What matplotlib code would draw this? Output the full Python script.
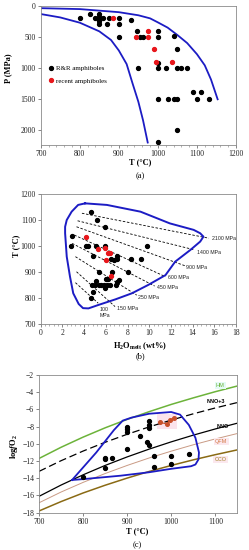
import numpy as np
import matplotlib
matplotlib.use('Agg')
import matplotlib.pyplot as plt
from matplotlib.ticker import MultipleLocator
from matplotlib.patches import Rectangle

plt.rcParams['font.family'] = ['Liberation Serif', 'DejaVu Serif']
plt.rcParams['mathtext.fontset'] = 'custom'
plt.rcParams['mathtext.rm'] = 'Liberation Serif:bold'
plt.rcParams['mathtext.it'] = 'Liberation Serif:bold:italic'
plt.rcParams['mathtext.bf'] = 'Liberation Serif:bold'

# ---- panel (a): P-T of amphiboles ----
rr_T = [800, 825, 840, 850, 850, 850, 850, 850, 860, 870, 875, 900, 900, 900,
        930, 947, 953, 962, 1000, 1000, 1040, 1050, 1000, 950, 1000, 1020, 1050,
        1060, 1075, 1090, 1110, 1000, 1025, 1040, 1050, 1100, 1130, 1050, 1000]
rr_P = [200, 135, 200, 130, 170, 210, 250, 295, 200, 290, 200, 200, 290, 500,
        230, 400, 500, 500, 400, 500, 490, 700, 930, 1000, 1000, 1000, 1000,
        1000, 1000, 1400, 1400, 1500, 1500, 1500, 1500, 1500, 1500, 2000, 2200]
new_T = [885, 975, 943, 975, 990, 995, 1035]
new_P = [200, 400, 500, 500, 700, 900, 900]

upper_T = [700, 800, 900, 950, 980, 1000, 1025, 1050, 1075, 1100, 1120, 1136, 1153]
upper_P = [35, 50, 100, 150, 200, 265, 350, 470, 600, 780, 960, 1190, 1510]
lower_T = [700, 750, 800, 850, 880, 900, 920, 935, 950, 962, 974]
lower_P = [130, 185, 270, 410, 550, 720, 940, 1250, 1550, 1850, 2210]

# ---- panel (b): T vs melt H2O ----
b_H = [4.6, 5.2, 5.9, 2.9, 2.8, 4.2, 4.4, 5.1, 5.9, 9.8, 4.8, 6.5, 6.8, 7.0, 7.0,
       8.3, 9.2, 5.4, 6.6, 8.0, 6.0, 6.2, 5.1, 4.7, 5.0, 5.4, 5.6, 5.8, 6.1, 6.4,
       6.9, 7.0, 7.2, 5.9, 4.8, 4.6]
b_T = [1130, 1100, 1075, 1040, 1000, 1000, 1000, 1000, 1000, 1000, 960, 950, 945,
       960, 950, 950, 950, 900, 900, 900, 875, 875, 865, 850, 850, 850, 850, 850,
       850, 850, 850, 860, 870, 840, 825, 800]
b_new_H = [4.2, 5.3, 5.9, 6.2, 6.4, 6.0, 6.5]
b_new_T = [1035, 990, 993, 975, 975, 945, 885]

isobar_labels = ['2100 MPa', '1400 MPa', '900 MPa', '600 MPa', '450 MPa',
                 '250 MPa', '150 MPa', '100\nMPa']
isobar_H0 = [3.8, 3.4, 3.3, 3.1, 2.9, 3.2, 3.3, 3.2]
isobar_T0 = [1126, 1097, 1074, 1042, 1010, 959, 901, 859]
isobar_H1 = [15.5, 14.2, 13.3, 11.5, 10.5, 8.85, 6.85, 5.3]
isobar_T1 = [1030, 985, 924, 882, 846, 811, 767, 780]
label_H = [15.75, 14.4, 13.4, 11.7, 10.7, 9.0, 7.0, 5.45]
label_T = [1030, 976, 917, 880, 840, 801, 760, 765]

field_b_H = [4.1, 6.1, 9.2, 11.9, 14.1, 14.7, 15.0, 14.7, 13.8, 12.4, 11.5, 9.9, 8.4,
             6.9, 5.3, 4.4, 3.9, 3.5, 3.0, 2.7, 2.4, 2.25, 2.25, 2.4, 2.85, 3.45, 4.1]
field_b_T = [1164, 1158, 1132, 1087, 1062, 1049, 1036, 1017, 985, 940, 888, 850, 818,
             795, 773, 760, 761, 777, 818, 882, 959, 1049, 1074, 1100, 1132, 1158, 1164]

# ---- panel (c): log fO2 vs T ----
buf_T = [700, 750, 800, 850, 900, 950, 1000, 1050, 1100, 1150]
hm = [-11.70, -10.40, -9.22, -8.14, -7.16, -6.26, -5.42, -4.66, -3.94, -3.28]
nno3 = [-13.20, -11.96, -10.84, -9.82, -8.89, -8.03, -7.24, -6.51, -5.83, -5.20]
nno = [-16.10, -14.79, -13.60, -12.51, -11.52, -10.61, -9.77, -8.99, -8.27, -7.60]
qfm = [-16.85, -15.60, -14.48, -13.45, -12.51, -11.64, -10.85, -10.11, -9.43, -8.80]
cco = [-17.80, -16.71, -15.71, -14.81, -13.98, -13.21, -12.51, -11.86, -11.26, -10.70]

c_T = [800, 850, 850, 865, 850, 900, 900, 900, 900, 930, 950, 950, 950, 945, 950,
       960, 960, 1000, 1000, 1040]
c_f = [-13.8, -11.6, -11.8, -11.7, -12.8, -8.1, -8.3, -8.6, -10.6, -9.1, -7.3, -7.8,
       -8.2, -9.8, -10.1, -11.4, -12.7, -11.4, -12.3, -11.2]
c_new_T = [975, 990, 998, 1006]
c_new_f = [-7.5, -7.7, -7.2, -7.0]

field_c_T = [775, 830, 870, 890, 910, 950, 1000, 1020, 1040, 1055, 1063, 1062, 1055,
             1045, 1000, 950, 885, 800, 775]
field_c_f = [-14.2, -11.0, -8.4, -7.3, -6.95, -6.5, -6.3, -6.6, -7.8, -9.3, -11.0,
             -11.8, -12.4, -12.6, -12.9, -13.3, -13.7, -14.1, -14.2]

BLUE = '#1c1cc4'
RED = '#e8161b'
W, H = 249, 550


def px(x, y):
    return x / W, 1 - y / H


def style(ax):
    for s in ax.spines.values():
        s.set_color('#8a8a8a')
        s.set_linewidth(0.6)
    ax.tick_params(labelsize=5.5, colors='#555555', labelcolor='#222222',
                   length=2, width=0.5, direction='out', pad=1.5)
    ax.tick_params(which='minor', length=1.3, width=0.4, colors='#777777')


fig = plt.figure(figsize=(W / 100, H / 100), dpi=100)

# panel (a)
ax = fig.add_axes([40.7 / W, 1 - 145 / H, 195.3 / W, 139 / H])
ax.plot(upper_T, upper_P, color=BLUE, lw=1.3)
ax.plot(lower_T, lower_P, color=BLUE, lw=1.3)
ax.plot(rr_T, rr_P, 'o', color='black', ms=2.8, label='R&R amphiboles')
ax.plot(new_T, new_P, 'o', color=RED, ms=2.8, label='recent amphiboles')
ax.set_xlim(700, 1200)
ax.set_ylim(2250, 0)
ax.xaxis.set_major_locator(MultipleLocator(100))
ax.xaxis.set_minor_locator(MultipleLocator(20))
ax.yaxis.set_major_locator(MultipleLocator(500))
style(ax)
ax.legend(loc='upper left', bbox_to_anchor=(0.0, 0.62), frameon=False, fontsize=5,
          handletextpad=0.1, labelspacing=1.0, handlelength=1.2, markerscale=1.0)

fig.text(*px(140, 162), 'T (°C)', ha='center', va='center', fontsize=6, weight='bold')
fig.text(*px(140, 176), '(a)', ha='center', va='center', fontsize=6)
fig.text(*px(8, 68), 'P (MPa)', ha='center', va='center', fontsize=6, weight='bold',
         rotation=90)

# panel (b)
ax = fig.add_axes([40.7 / W, 1 - 324 / H, 195.3 / W, 130 / H])
for i in range(len(isobar_labels)):
    ax.plot([isobar_H0[i], isobar_H1[i]], [isobar_T0[i], isobar_T1[i]],
            ls=(0, (3, 2)), color='black', lw=0.6)
    ax.text(label_H[i], label_T[i], isobar_labels[i], fontsize=3.8,
            family=['Liberation Sans', 'DejaVu Sans'], color='#222222',
            ha='left', va='top' if '\n' in isobar_labels[i] else 'center')
ax.plot(field_b_H, field_b_T, color=BLUE, lw=1.4, solid_joinstyle='round')
ax.plot(b_H, b_T, 'o', color='black', ms=2.8)
ax.plot(b_new_H, b_new_T, 'o', color=RED, ms=2.8)
ax.set_xlim(0, 18)
ax.set_ylim(700, 1200)
ax.xaxis.set_major_locator(MultipleLocator(2))
ax.xaxis.set_minor_locator(MultipleLocator(0.4))
ax.yaxis.set_major_locator(MultipleLocator(100))
style(ax)

fig.text(*px(140, 346.5), r'H$_{2}$O$_{\mathrm{melt}}$ (wt%)', ha='center',
         va='center', fontsize=6, weight='bold')
fig.text(*px(140, 356), '(b)', ha='center', va='center', fontsize=6)
fig.text(*px(16, 246), 'T (°C)', ha='center', va='center', fontsize=6,
         weight='bold', rotation=90)

# panel (c)
ax = fig.add_axes([39 / W, 1 - 512.7 / H, 198.3 / W, 137.7 / H])
ax.add_patch(Rectangle((968, -8.3), 45, 1.8, facecolor='#fbe3ec', edgecolor='none',
                       zorder=0))
ax.plot(buf_T, hm, color='#6cb33a', lw=1.1)
ax.plot(buf_T, nno3, color='black', lw=0.9, ls=(0, (6, 3)))
ax.plot(buf_T, nno, color='black', lw=0.9)
ax.plot(buf_T, qfm, color='#c99a84', lw=0.7)
ax.plot(buf_T, cco, color='#8a6a14', lw=1.1)
ax.plot(field_c_T, field_c_f, color=BLUE, lw=1.3, solid_joinstyle='round')
ax.plot(c_T, c_f, 'o', color='black', ms=2.8)
ax.plot(c_new_T, c_new_f, '-o', color='#c8502a', ms=2.6, lw=0.8)

sans = ['Liberation Sans', 'DejaVu Sans']
ax.text(1111, -3.25, 'HM', color='#6cb33a', fontsize=4, ha='center', va='center',
        family=sans, bbox=dict(facecolor='#e4faf5', edgecolor='none', pad=0.8))
ax.text(1101, -5.1, 'NNO+3', color='black', fontsize=4, ha='center', va='center',
        family=sans, weight='bold')
ax.text(1118, -8.0, 'NNO', color='black', fontsize=4, ha='center', va='center',
        family=sans, weight='bold')
ax.text(1114, -9.75, 'QFM', color='#d47a45', fontsize=4, ha='center', va='center',
        family=sans, bbox=dict(facecolor='#fbe8ee', edgecolor='none', pad=0.8))
ax.text(1112, -11.8, 'CCO', color='#a08020', fontsize=4, ha='center', va='center',
        family=sans, bbox=dict(facecolor='#fbe8ee', edgecolor='none', pad=0.8))

ax.set_xlim(700, 1150)
ax.set_ylim(-18, -2)
ax.xaxis.set_major_locator(MultipleLocator(100))
ax.yaxis.set_major_locator(MultipleLocator(2))
style(ax)

fig.text(*px(137, 531.5), 'T (°C)', ha='center', va='center', fontsize=6, weight='bold')
fig.text(*px(137, 545), '(c)', ha='center', va='center', fontsize=6)
fig.text(*px(14, 447), r'log$f$O$_{2}$', ha='center', va='center', fontsize=6,
         weight='bold', rotation=90)

fig.savefig('out.png', dpi=100)
